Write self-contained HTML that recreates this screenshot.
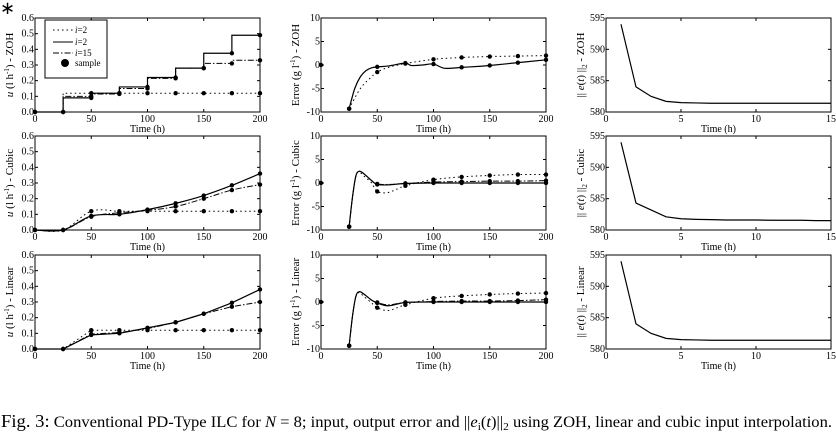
<!DOCTYPE html>
<html><head><meta charset="utf-8"><style>
body{margin:0;background:#fff;}
svg{display:block;font-family:"Liberation Serif",serif;}
</style></head><body>
<svg id="fig" width="836" height="441" viewBox="0 0 836 441">
<text x="0" y="14" font-size="18">∗</text>
<text x="1" y="427" font-size="16" textLength="831" lengthAdjust="spacingAndGlyphs"><tspan font-size="18">Fig. 3:</tspan> Conventional PD-Type ILC for <tspan font-style="italic">N</tspan> = 8; input, output error and ||<tspan font-style="italic">e</tspan><tspan font-size="11" dy="3">i</tspan><tspan dy="-3">(</tspan><tspan font-style="italic">t</tspan>)||<tspan font-size="11" dy="3">2</tspan><tspan dy="-3"> using ZOH, linear and cubic input interpolation.</tspan></text>
</svg>
<script>
// ---- data ----
const sampleTimes = [0,25,50,75,100,125,150,175,200];
const zohI2 = [0,0.12,0.12,0.12,0.12,0.12,0.12,0.12,0.12];
const zohI8 = [0,0.09,0.12,0.16,0.22,0.28,0.375,0.49,0.49];
const zohI15 = [0,0.10,0.115,0.15,0.215,0.28,0.31,0.33,0.33];
const cubI2 = [0,0,0.12,0.12,0.12,0.12,0.12,0.12,0.12];
const cubI8 = [0,0,0.09,0.10,0.13,0.17,0.22,0.285,0.36];
const cubI15 = [0,0,0.085,0.11,0.125,0.15,0.20,0.255,0.29];
const linI2 = [0,0,0.12,0.12,0.12,0.12,0.12,0.12,0.12];
const linI8 = [0,0,0.09,0.10,0.135,0.17,0.225,0.295,0.38];
const linI15 = [0,0,0.095,0.105,0.13,0.17,0.225,0.27,0.30];

const zohErrT8 = [25,30,35,40,45,50,60,75,80,90,100,110,125,140,150,175,200];
const zohErr8 = [-9.3,-5,-2.5,-1.2,-0.6,-0.4,-0.2,0.4,-0.1,0,0.2,-0.7,-0.5,-0.3,-0.1,0.5,1.1];
const zohErrT2 = [25,35,45,50,60,75,100,125,150,175,200];
const zohErr2 = [-9.3,-5,-2.5,-1.5,-0.5,0.3,1.2,1.6,1.8,1.9,2.0];

const errT = [25,28,31,34,38,45,50,60,75,100,125,150,175,200];
const cubErr8 = [-9.3,-3,1.5,2.5,2.0,0.5,-0.3,-0.4,-0.1,0,0,0,0,0];
const cubErr15 = [-9.3,-3,1.5,2.5,2.0,0.5,-0.2,-0.3,-0.1,0.2,0.3,0.4,0.4,0.5];
const cubErr2 = [-9.3,-3,1.5,2.3,1.5,0,-1.8,-2.0,-0.6,0.7,1.3,1.6,1.8,1.8];
const linErr8 = [-9.3,-3,1.2,2.2,1.7,0.4,-0.2,-0.8,-0.1,0,0,0,0,0];
const linErr15 = [-9.3,-3,1.2,2.2,1.7,0.4,-0.1,-0.6,-0.1,0.1,0.2,0.2,0.3,0.5];
const linErr2 = [-9.3,-3,1.2,2.0,1.2,-0.2,-1.2,-1.8,-0.6,0.8,1.3,1.6,1.8,1.9];

const iterations = [1,2,3,4,5,6,7,8,9,10,11,12,13,14,15];
const normZoh = [594,584,582.5,581.7,581.5,581.45,581.4,581.4,581.4,581.4,581.4,581.4,581.4,581.4,581.4];
const normCub = [594,584.3,583.2,582.1,581.8,581.7,581.65,581.6,581.6,581.6,581.55,581.55,581.55,581.5,581.5];
const normLin = [594,584,582.5,581.7,581.5,581.45,581.4,581.4,581.4,581.4,581.4,581.4,581.4,581.4,581.4];

const inTicks = ["0.0","0.1","0.2","0.3","0.4","0.5","0.6"];
const errTicks = ["-10","-5","0","5","10"];
const normTicks = ["580","585","590","595"];
const timeTicks = ["0","50","100","150","200"];
const iterTicks = ["0","5","10","15"];

// ---- drawing ----
const NS="http://www.w3.org/2000/svg";
const svg=document.getElementById('fig');
function mk(tag,attrs,parent){const e=document.createElementNS(NS,tag);for(const k in attrs)e.setAttribute(k,attrs[k]);(parent||svg).appendChild(e);return e;}
const DASH={dot:"1.5,3",solid:"",dashdot:"6,2,1.5,2"};

function panel(name,x0,y0,w,h,xmin,xmax,ymin,ymax,xt,yt,ylab){
  const g=mk('g',{});
  
  
  const sx=v=>x0+(v-xmin)/(xmax-xmin)*w, sy=v=>y0+h-(v-ymin)/(ymax-ymin)*h;
  const r=mk('rect',{x:x0,y:y0,width:w,height:h,fill:'none',stroke:'#000','stroke-width':1},g);
  
  
  xt.forEach(t=>{const v=+t,X=sx(v);
    mk('line',{x1:X,x2:X,y1:y0+h,y2:y0+h-3,stroke:'#000'},g);
    mk('line',{x1:X,x2:X,y1:y0,y2:y0+3,stroke:'#000'},g);
    const tx=mk('text',{x:X,y:y0+h+10,'font-size':10,'text-anchor':'middle'},g);tx.textContent=t;
    
    });
  yt.forEach(t=>{const v=+t,Y=sy(v);
    mk('line',{x1:x0,x2:x0+3,y1:Y,y2:Y,stroke:'#000'},g);
    mk('line',{x1:x0+w,x2:x0+w-3,y1:Y,y2:Y,stroke:'#000'},g);
    const tx=mk('text',{x:x0-1,y:Y+3,'font-size':10,'text-anchor':'end'},g);tx.textContent=t;
    
    });
  const xl=mk('text',{x:x0+w/2,y:y0+h+20,'font-size':10,'text-anchor':'middle'},g);xl.textContent='Time (h)';
  
  
  const yl=mk('text',{x:0,y:0,'font-size':11,'text-anchor':'middle',transform:`translate(${x0-22},${y0+h/2}) rotate(-90)`},g);yl.innerHTML=ylab;
  
  
  return {g,sx,sy};
}
function series(P,name,xs,ys,style,mode,markers){
  let pts=xs.map((x,i)=>[P.sx(x),P.sy(ys[i])]);
  let d='';
  if(mode==='step'){d='M'+pts[0][0]+','+pts[0][1];for(let i=1;i<pts.length;i++){d+=' L'+pts[i][0]+','+pts[i-1][1]+' L'+pts[i][0]+','+pts[i][1];}}
  else if(mode==='smooth'){d='M'+pts[0].join(',');for(let i=0;i<pts.length-1;i++){const p0=pts[Math.max(0,i-1)],p1=pts[i],p2=pts[i+1],p3=pts[Math.min(pts.length-1,i+2)];
      d+=` C${p1[0]+(p2[0]-p0[0])/6},${p1[1]+(p2[1]-p0[1])/6} ${p2[0]-(p3[0]-p1[0])/6},${p2[1]-(p3[1]-p1[1])/6} ${p2[0]},${p2[1]}`;}}
  else d='M'+pts.map(p=>p.join(',')).join(' L');
  const p=mk('path',{d,fill:'none',stroke:'#000','stroke-width':style==='solid'?1.2:1,'stroke-dasharray':DASH[style]},P.g);
  
  
  if(markers){markers.forEach(t=>{const i=xs.indexOf(t);if(i<0)return;
    const yv=mode==='step'?ys[Math.max(0,i-1)]:ys[i];
    const c=mk('circle',{cx:P.sx(t),cy:P.sy(yv),r:2.2,fill:'#000'},P.g);
    
    });}
}
const C1=35,C2=321,C3=606,W=225,H=94,R1=18,R2=136,R3=255;
const sampM=sampleTimes;
// column 1
let P=panel('input-zoh-panel',C1,R1,W,H,0,200,0,0.6,timeTicks,inTicks,'<tspan font-style="italic">u</tspan> (l h<tspan font-size="7" dy="-4">-1</tspan><tspan dy="4">) - ZOH</tspan>');
series(P,'zoh-i2-line',sampleTimes,zohI2,'dot','step',sampM);
series(P,'zoh-i15-line',sampleTimes,zohI15,'dashdot','step',sampM);
series(P,'zoh-i8-line',sampleTimes,zohI8,'solid','step',sampM);
// legend
const lg=mk('g',{});


mk('rect',{x:45,y:20,width:62,height:58,fill:'#fff',stroke:'#000'},lg);
[['dot','i=2',30],['solid','i=2',42],['dashdot','i=15',53]].forEach(([s,l,y])=>{
  mk('line',{x1:53,x2:73,y1:y,y2:y,stroke:'#000','stroke-dasharray':DASH[s]},lg);
  const t=mk('text',{x:75,y:y+3,'font-size':9},lg);t.innerHTML='<tspan font-style="italic">i</tspan>'+l.slice(1);
  
  });
mk('circle',{cx:65,cy:63,r:4,fill:'#000'},lg);
const ts=mk('text',{x:75,y:66,'font-size':9},lg);ts.textContent='sample';



P=panel('input-cubic-panel',C1,R2,W,H,0,200,0,0.6,timeTicks,inTicks,'<tspan font-style="italic">u</tspan> (l h<tspan font-size="7" dy="-4">-1</tspan><tspan dy="4">) - Cubic</tspan>');
series(P,'cubic-i2-line',sampleTimes,cubI2,'dot','smooth',sampM);
series(P,'cubic-i15-line',sampleTimes,cubI15,'dashdot','smooth',sampM);
series(P,'cubic-i8-line',sampleTimes,cubI8,'solid','smooth',sampM);
P=panel('input-linear-panel',C1,R3,W,H,0,200,0,0.6,timeTicks,inTicks,'<tspan font-style="italic">u</tspan> (l h<tspan font-size="7" dy="-4">-1</tspan><tspan dy="4">) - Linear</tspan>');
series(P,'linear-i2-line',sampleTimes,linI2,'dot','line',sampM);
series(P,'linear-i15-line',sampleTimes,linI15,'dashdot','line',sampM);
series(P,'linear-i8-line',sampleTimes,linI8,'solid','line',sampM);
// column 2
function zeroDot(P){const c=mk('circle',{cx:P.sx(0),cy:P.sy(0),r:2.2,fill:'#000'},P.g);
  
  }
P=panel('error-zoh-panel',C2,R1,W,H,0,200,-10,10,timeTicks,errTicks,'Error (g l<tspan font-size="7" dy="-4">-1</tspan><tspan dy="4">) - ZOH</tspan>');
series(P,'zoh-err-i2-line',zohErrT2,zohErr2,'dot','smooth',sampM);
series(P,'zoh-err-i8-line',zohErrT8,zohErr8,'solid','smooth',sampM);zeroDot(P);
P=panel('error-cubic-panel',C2,R2,W,H,0,200,-10,10,timeTicks,errTicks,'Error (g l<tspan font-size="7" dy="-4">-1</tspan><tspan dy="4">) - Cubic</tspan>');
series(P,'cubic-err-i2-line',errT,cubErr2,'dot','smooth',sampM);
series(P,'cubic-err-i15-line',errT,cubErr15,'dashdot','smooth',sampM);
series(P,'cubic-err-i8-line',errT,cubErr8,'solid','smooth',sampM);zeroDot(P);
P=panel('error-linear-panel',C2,R3,W,H,0,200,-10,10,timeTicks,errTicks,'Error (g l<tspan font-size="7" dy="-4">-1</tspan><tspan dy="4">) - Linear</tspan>');
series(P,'linear-err-i2-line',errT,linErr2,'dot','smooth',sampM);
series(P,'linear-err-i15-line',errT,linErr15,'dashdot','smooth',sampM);
series(P,'linear-err-i8-line',errT,linErr8,'solid','smooth',sampM);zeroDot(P);
// column 3
const nl=s=>'|| <tspan font-style="italic">e</tspan>(<tspan font-style="italic">t</tspan>) ||<tspan font-size="7" dy="3">2</tspan><tspan dy="-3"> - '+s+'</tspan>';
P=panel('norm-zoh-panel',C3,R1,W,H,0,15,580,595,iterTicks,normTicks,nl('ZOH'));
series(P,'norm-zoh-line',iterations,normZoh,'solid','line',null);
P=panel('norm-cubic-panel',C3,R2,W,H,0,15,580,595,iterTicks,normTicks,nl('Cubic'));
series(P,'norm-cubic-line',iterations,normCub,'solid','line',null);
P=panel('norm-linear-panel',C3,R3,W,H,0,15,580,595,iterTicks,normTicks,nl('Linear'));
series(P,'norm-linear-line',iterations,normLin,'solid','line',null);
</script>
</body></html>
